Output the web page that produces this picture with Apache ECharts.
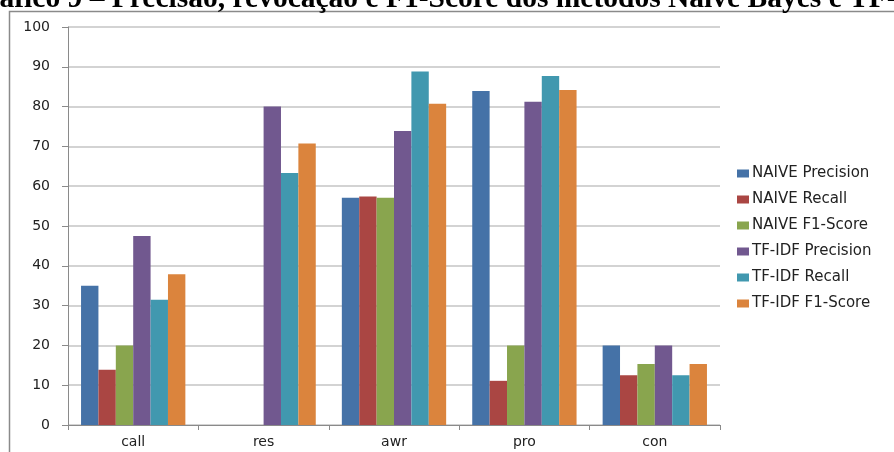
<!DOCTYPE html>
<html>
<head>
<meta charset="utf-8">
<script src="https://cdn.jsdelivr.net/npm/echarts@6/dist/echarts.min.js"></script>
<style>
html, body { margin: 0; padding: 0; background: #fff; }
#chart { width: 894px; height: 452px; }
</style>
</head>
<body>
<div id="chart"></div>
<script>
// categories and values
const categories = ['call', 'res', 'awr', 'pro', 'con'];
const seriesNames = ['NAIVE Precision', 'NAIVE Recall', 'NAIVE F1-Score',
  'TF-IDF Precision', 'TF-IDF Recall', 'TF-IDF F1-Score'];
const naivePrecision = [35, 0, 57.1, 83.9, 20];
const naiveRecall = [13.9, 0, 57.4, 11.1, 12.5];
const naiveF1 = [20, 0, 57.1, 20, 15.3];
const tfidfPrecision = [47.5, 80, 73.9, 81.2, 20];
const tfidfRecall = [31.5, 63.3, 88.8, 87.7, 12.5];
const tfidfF1 = [37.9, 70.7, 80.7, 84.2, 15.3];
const yTicks = [0, 10, 20, 30, 40, 50, 60, 70, 80, 90, 100];

const colors = ['#4572A7', '#AA4643', '#89A54E', '#71588F', '#4198AF', '#DB843D'];
const allValues = [naivePrecision, naiveRecall, naiveF1, tfidfPrecision, tfidfRecall, tfidfF1];

const chart = echarts.init(document.getElementById('chart'));

chart.setOption({
  backgroundColor: '#fff',
  color: colors,
  animation: false,
  graphic: [
    {
      // chart frame (top and left edge visible)
      type: 'rect',
      shape: { x: 9.5, y: 11.5, width: 900, height: 460 },
      style: { fill: 'none', stroke: '#8a8a8a', lineWidth: 1.5 },
      z: 0
    },
    {
      // cropped title above the frame
      type: 'text',
      x: -36.5,
      y: -1,
      style: {
        text: 'Gráfico 9 – Precisão, revocação e F1-Score dos métodos Naive Bayes e TF-IDF',
        font: 'bold 29.5px "Liberation Serif"',
        fill: '#000',
        textVerticalAlign: 'middle'
      }
    }
  ],
  legend: {
    orient: 'vertical',
    left: 732,
    top: 161,
    padding: 5,
    itemWidth: 12,
    itemHeight: 8,
    itemGap: 11,
    icon: 'rect',
    data: seriesNames,
    textStyle: { fontFamily: 'DejaVu Sans', fontSize: 15, color: '#222', padding: [0, 0, 0, -2] }
  },
  grid: { left: 68, right: 174, top: 27, bottom: 27 },
  xAxis: {
    type: 'category',
    data: categories,
    axisLine: { lineStyle: { color: '#8a8a8a', width: 1 } },
    axisTick: { show: true, length: 5, lineStyle: { color: '#8a8a8a' } },
    axisLabel: { margin: 10, fontFamily: 'DejaVu Sans', fontSize: 14, color: '#222' }
  },
  yAxis: {
    type: 'value',
    min: yTicks[0],
    max: yTicks[yTicks.length - 1],
    interval: 10,
    axisLine: { show: true, lineStyle: { color: '#8a8a8a', width: 1 } },
    axisTick: { show: true, length: 6, lineStyle: { color: '#8a8a8a' } },
    axisLabel: { margin: 18, fontFamily: 'DejaVu Sans', fontSize: 14, color: '#222' },
    splitLine: { show: true, lineStyle: { color: '#c4c4c4', width: 1.5 } }
  },
  series: seriesNames.map((name, i) => ({
    name: name,
    type: 'bar',
    data: allValues[i],
    barGap: 0,
    barCategoryGap: '20%'
  }))
});
</script>
</body>
</html>
